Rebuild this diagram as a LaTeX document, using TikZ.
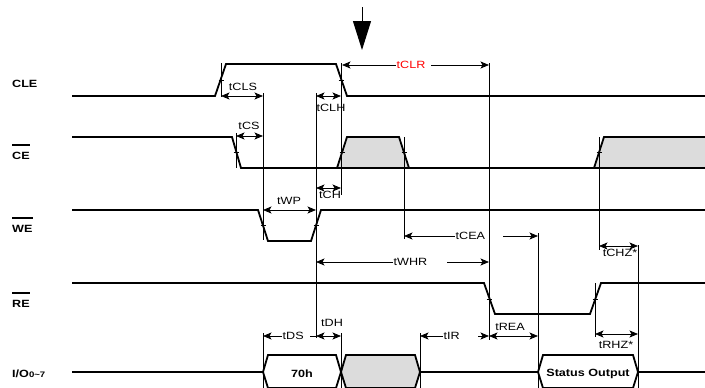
\documentclass[tikz,border=0pt]{standalone}
\usepackage{fontspec}
\setmainfont[FakeStretch=1.2]{Liberation Sans}
\usetikzlibrary{arrows.meta}
\definecolor{boxgray}{RGB}{220,220,220}
\begin{document}
\begin{tikzpicture}[x=1pt, y=-1pt, >={Stealth[length=8.5pt,width=7pt,inset=2pt]},
    font=\fontsize{10.5}{12}\selectfont,
    sig/.style={line width=1.8pt},
    ext/.style={line width=0.8pt},
    lbl/.style={font=\bfseries\fontsize{10.5}{12}\selectfont, anchor=west, inner sep=0pt},
    tm/.style={inner sep=0.5pt}]
    \useasboundingbox (0,0) rectangle (705,388);
    % 信号名
    \node[lbl] (lcle) at (12,83.5) {CLE};
    \node[lbl] (lce) at (12,155.5) {CE};
    \node[lbl] (lwe) at (12,228.5) {WE};
    \node[lbl] (lre) at (12,303.5) {RE};
    \node[lbl] (lio) at (12,373.5) {I/O{\fontsize{8}{9}\selectfont 0\textasciitilde 7}};
    \foreach \n in {lce,lwe,lre}
        \draw[line width=1.5pt] ([yshift=6.5pt]\n.north west) -- ([yshift=6.5pt]\n.north east);
    % 灰色区域
    \fill[boxgray] (337,168) -- (347,137) -- (399,137) -- (409,168) -- cycle;
    \fill[boxgray] (594,168) -- (604,137) -- (705,137) -- (705,168) -- cycle;
    \fill[boxgray] (341,372) -- (346,355) -- (415,355) -- (420,372) -- (415,388) -- (346,388) -- cycle;
    % 波形
    \draw[sig] (72,96) -- (215,96) -- (226,64) -- (336,64) -- (347,96) -- (705,96); % CLE
    \draw[sig] (72,137) -- (232,137) -- (241,168) -- (705,168); % CE
    \draw[sig] (337,168) -- (347,137) -- (399,137) -- (409,168);
    \draw[sig] (594,168) -- (604,137) -- (705,137);
    \draw[sig] (72,210) -- (258,210) -- (268,241) -- (311,241) -- (321,210) -- (705,210); % WE
    \draw[sig] (72,283) -- (484,283) -- (495,314) -- (590,314) -- (601,283) -- (705,283); % RE
    \draw[sig] (72,372) -- (263,372) (420,372) -- (538,372) (638,372) -- (705,372); % I/O
    \draw[sig] (263,372) -- (268,355) -- (336,355) -- (341,372) -- (336,388) -- (268,388) -- cycle;
    \draw[sig] (341,372) -- (346,355) -- (415,355) -- (420,372) -- (415,388) -- (346,388) -- cycle;
    \draw[sig] (538,372) -- (543,355) -- (633,355) -- (638,372) -- (633,388) -- (543,388) -- cycle;
    \node[font=\bfseries\fontsize{10.5}{12}\selectfont] (d70) at (302,374) {70h};
    \node[font=\bfseries\fontsize{10.5}{12}\selectfont] (dst) at (588,374) {Status Output};
    % 跳变中点
    \foreach \x/\y in {221/80, 341/80, 236/152, 342/152, 404/152, 599/152,
                       263/225, 316/225, 489/299, 595/299}
        \draw[ext] (\x-2.5,\y) -- (\x+2.5,\y);
    % 延长线
    \draw[ext] (221,63) -- (221,97) (236,133) -- (236,168)
        (263,93) -- (263,240) (263,333) -- (263,388)
        (316,93) -- (316,338)
        (341,63) -- (341,195) (341,333) -- (341,388)
        (404,137) -- (404,239) (420,333) -- (420,388)
        (489,63) -- (489,340) (538,233) -- (538,388)
        (599,137) -- (599,250) (595,283) -- (595,337) (638,245) -- (638,388);
    % 大箭头
    \draw[line width=1pt, -{Triangle[length=29pt,width=18pt]}] (362,7) -- (362,50);
    % 时间参数
    \draw[ext,<->] (221,96) -- (263,96);
    \node[tm] (tcls) at (243,87) {tCLS};
    \draw[ext,<->] (236,136) -- (263,136);
    \node[tm] (tcs) at (249,126) {tCS};
    \draw[ext,<->] (316,96) -- (341,96);
    \node[tm] (tclh) at (331,108) {tCLH};
    \draw[ext,<->] (316,188) -- (341,188);
    \node[tm] (tch) at (330,195) {tCH};
    \node[tm, text=red, anchor=west] (tclr) at (396,65) {tCLR};
    \draw[ext,<-] (342,65) -- (tclr.west);
    \draw[ext,->] (431,65) -- (489,65);
    \draw[ext,<->] (263,210) -- (316,210);
    \node[tm] (twp) at (289,201) {tWP};
    \node[tm, anchor=west] (tcea) at (455,236) {tCEA};
    \draw[ext,<-] (404,236) -- (tcea.west);
    \draw[ext,->] (503,236) -- (538,236);
    \node[tm, anchor=west] (twhr) at (393,262) {tWHR};
    \draw[ext,<-] (316,262) -- (twhr.west);
    \draw[ext,->] (447,262) -- (489,262);
    \draw[ext,<->] (599,246) -- (638,246);
    \node[tm] (tchz) at (620,253) {tCHZ*};
    \draw[ext,<->] (595,334) -- (638,334);
    \node[tm] (trhz) at (616,345) {tRHZ*};
    \node[tm, anchor=west] (tds) at (282,336) {tDS};
    \draw[ext,<-] (263,336) -- (tds.west);
    \draw[ext] (310,336) -- (316,336);
    \draw[ext,<->] (316,336) -- (341,336);
    \node[tm] (tdh) at (332,323) {tDH};
    \node[tm, anchor=west] (tir) at (443,336) {tIR};
    \draw[ext,<-] (420,336) -- (tir.west);
    \draw[ext,->] (478,336) -- (489,336);
    \draw[ext,<->] (489,336) -- (538,336);
    \node[tm] (trea) at (510,327) {tREA};
\end{tikzpicture}
\end{document}
